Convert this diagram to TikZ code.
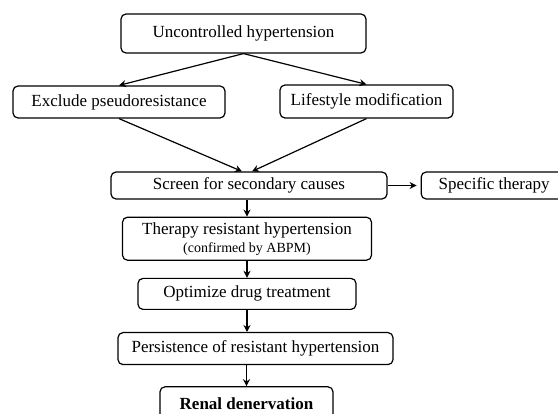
\documentclass[tikz,border=0pt]{standalone}
\usepackage{fontspec}
\setmainfont{Liberation Serif}
\usepackage{tikz}
\usetikzlibrary{arrows.meta, positioning, calc}
\tikzstyle{stepbox} = [rectangle, rounded corners=5pt, draw=black, line width=1.2pt, text centered, inner sep=2pt, font=\fontsize{17}{20}\selectfont]
\tikzstyle{arrow} = [line width=1.2pt, -{Stealth[length=7pt, width=7pt]}]

\begin{document}
\begin{tikzpicture}
\useasboundingbox (0,0) rectangle (558pt,-414pt);

% Start
\node (uncontrolled) [stepbox, minimum width=245pt, minimum height=39pt] at (243.5pt,-33.5pt) {Uncontrolled hypertension};

% First checks
\node (exclude) [stepbox, minimum width=212pt, minimum height=32pt] at (119pt,-102pt) {Exclude pseudoresistance};
\node (lifestyle) [stepbox, minimum width=173pt, minimum height=33pt] at (366.5pt,-101.5pt) {Lifestyle modification};

% Secondary causes
\node (screen) [stepbox, minimum width=276pt, minimum height=27pt] at (249pt,-185.5pt) {Screen for secondary causes};
\node (specific) [stepbox, right=33pt of screen, minimum width=146pt, minimum height=27pt] {Specific therapy};

% Resistant hypertension
\node (resistant) [stepbox, below=17pt of screen, xshift=-2pt, minimum width=249pt, minimum height=43pt, align=center] {Therapy resistant hypertension\\[-2pt]{\fontsize{14}{16}\selectfont (confirmed by ABPM)}};
\node (optimize) [stepbox, below=17pt of resistant, minimum width=218pt, minimum height=31pt] {Optimize drug treatment};
\node (persist) [stepbox, below=22pt of optimize, xshift=8.5pt, minimum width=275pt, minimum height=32pt] {Persistence of resistant hypertension};
\node (renal) [stepbox, below=21pt of persist, xshift=-9pt, minimum width=173pt, minimum height=33pt] {\bfseries Renal denervation};

% Arrows
\draw [arrow] (uncontrolled.south) -- (exclude.north);
\draw [arrow] (uncontrolled.south) -- (lifestyle.north);
\draw [arrow] (exclude.south) -- ([xshift=-7pt]screen.north);
\draw [arrow] (lifestyle.south) -- ([xshift=3pt]screen.north);
\draw [arrow, shorten >=4pt] (screen) -- (specific);
\draw [arrow] (resistant |- screen.south) -- (resistant);
\draw [arrow] (resistant) -- (optimize);
\draw [arrow] (optimize) -- (optimize |- persist.north);
\draw [arrow] (renal |- persist.south) -- (renal);

\end{tikzpicture}
\end{document}
